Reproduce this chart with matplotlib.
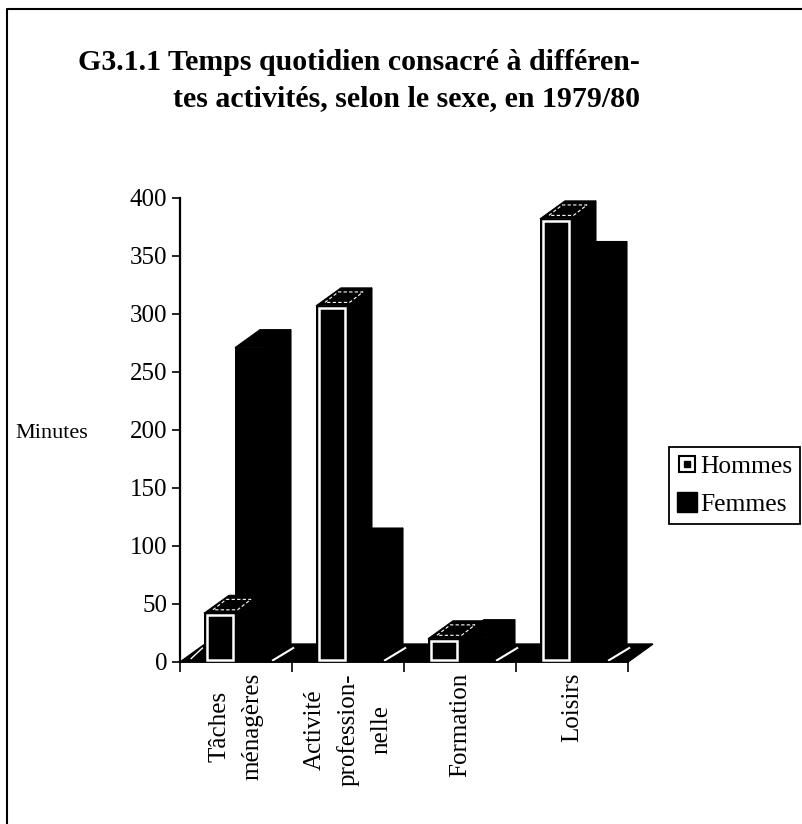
import matplotlib
matplotlib.use('Agg')
import matplotlib.pyplot as plt
from matplotlib.lines import Line2D
from matplotlib.legend_handler import HandlerTuple
from matplotlib.patches import Polygon

categories = ['Tâches\nménagères', 'Activité\nprofession-\nnelle', 'Formation', 'Loisirs']
hommes = [42, 307, 20, 382]
femmes = [271, 100, 21, 347]
y_ticks = [0, 50, 100, 150, 200, 250, 300, 350, 400]

BAR_W = 0.277
BAR_START = 0.214
DEPTH_X = 0.223
DEPTH_Y = 15.5


def box_top(ax, x, v):
    pts = [(x, v), (x + DEPTH_X, v + DEPTH_Y), (x + BAR_W + DEPTH_X, v + DEPTH_Y), (x + BAR_W, v)]
    ax.add_patch(Polygon(pts, fc='black', ec='black', lw=0.8, clip_on=False, zorder=3))


def box_side(ax, x, v):
    pts = [(x + BAR_W, 0), (x + BAR_W + DEPTH_X, DEPTH_Y), (x + BAR_W + DEPTH_X, v + DEPTH_Y), (x + BAR_W, v)]
    ax.add_patch(Polygon(pts, fc='black', ec='black', lw=0.8, clip_on=False, zorder=3))


def main():
    plt.rcParams['font.family'] = ['Liberation Serif', 'DejaVu Serif']
    fig = plt.figure(figsize=(8.03, 8.24), dpi=100)
    ax = fig.add_axes([180 / 803, 1 - 662 / 824, 448 / 803, 464 / 824])
    ax.set_xlim(0, 4)
    ax.set_ylim(0, 400)

    # floor of the 3d box
    floor = [(0, 0), (DEPTH_X, DEPTH_Y), (4 + DEPTH_X, DEPTH_Y), (4, 0)]
    ax.add_patch(Polygon(floor, fc='black', ec='black', clip_on=False, zorder=2))
    for i in range(1, 5):
        ax.plot([i - 0.17, i + 0.01], [1.5, 12], c='white', lw=1.5, zorder=2.5, clip_on=False)
    ax.plot([0.1, 0.2], [3, 12], c='white', lw=1, zorder=2.5)

    for i in range(len(categories)):
        x_h = i + BAR_START
        x_f = x_h + BAR_W
        box_side(ax, x_h, hommes[i])
        box_top(ax, x_h, hommes[i])
        box_side(ax, x_f, femmes[i])
        box_top(ax, x_f, femmes[i])
        ax.bar(x_f, femmes[i], BAR_W, align='edge', color='black', zorder=4)
        ax.bar(x_h, hommes[i], BAR_W, align='edge', color='black', zorder=5)
        ax.bar(x_h + 0.03, hommes[i] - 3.5, BAR_W - 0.05, bottom=1.7, align='edge',
               fc='black', ec='white', lw=1.8, zorder=6)
        # white outline inside the top of the men's box
        inset = [(x_h + 0.08, hommes[i] + 3), (x_h + 0.2, hommes[i] + 12), (x_h + 0.42, hommes[i] + 12), (x_h + 0.3, hommes[i] + 3)]
        ax.add_patch(Polygon(inset, fc='none', ec='white', lw=0.8, ls=(0, (3, 2)), zorder=7))

    for s in ['top', 'right']:
        ax.spines[s].set_visible(False)
    ax.spines['left'].set_linewidth(1.6)
    ax.spines['bottom'].set_linewidth(1.2)
    ax.set_yticks(y_ticks)
    ax.tick_params(axis='y', length=6, width=1.2, labelsize=18, pad=3)
    ax.set_xticks(range(5))
    ax.set_xticklabels([])
    ax.tick_params(axis='x', which='major', length=7, width=1.2)
    ax.set_xticks([i + 0.5 for i in range(4)], minor=True)
    ax.set_xticklabels(categories, minor=True, rotation=90, ha='center', va='top',
                       ma='center', fontsize=18, linespacing=1.6)
    ax.tick_params(axis='x', which='minor', length=0, pad=8)

    fig.text(78 / 803, 1 - 69.5 / 824, 'G3.1.1 Temps quotidien consacré à différen-',
             fontsize=21.5, fontweight='bold', ha='left', va='baseline')
    fig.text(640 / 803, 1 - 106.5 / 824, 'tes activités, selon le sexe, en 1979/80',
             fontsize=21.5, fontweight='bold', ha='right', va='baseline')
    fig.text(15 / 803, 1 - 433 / 824, 'Minutes', fontsize=16, ha='left', va='center')

    outer = Line2D([], [], ls='none', marker='s', ms=12, mfc='white', mec='black', mew=1.5)
    inner = Line2D([], [], ls='none', marker='s', ms=5, mfc='black', mec='black')
    solid = Line2D([], [], ls='none', marker='s', ms=14, mfc='black', mec='black')
    leg = fig.legend([(outer, inner), solid], ['Hommes', 'Femmes'],
                     handler_map={tuple: HandlerTuple(ndivide=1, pad=0)},
                     loc='center', bbox_to_anchor=(734.5 / 803, 1 - 485.5 / 824),
                     fontsize=18.4, frameon=True, fancybox=False, edgecolor='black', framealpha=1,
                     borderpad=0.3, labelspacing=0.6, handlelength=0.85, handletextpad=0.1, borderaxespad=0)
    leg.get_frame().set_linewidth(1.3)

    # page frame, only left and top are visible in the scan
    fig.add_artist(Line2D([7 / 803, 7 / 803, 1], [0, 1 - 9 / 824, 1 - 9 / 824], c='black', lw=1.5))

    fig.savefig('out.png', dpi=100)


if __name__ == '__main__':
    main()
